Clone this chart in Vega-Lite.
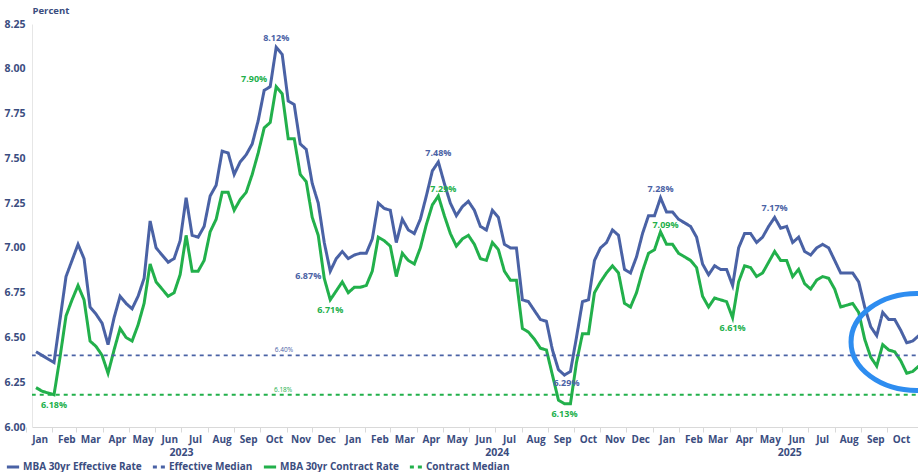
{
  "$schema": "https://vega.github.io/schema/vega-lite/v6.json",
  "width": 886,
  "height": 403,
  "autosize": {"type": "none"},
  "padding": {"left": 32, "top": 24, "right": 0, "bottom": 45},
  "background": "#ffffff",
  "config": {
    "view": {"stroke": null},
    "font": "Open Sans",
    "text": {"font": "Open Sans", "fontWeight": "bold", "fontSize": 9}
  },
  "layer": [
    {
      "data": {"values": [
        {"date": "2023-01-13", "MBA 30yr Effective Rate": 6.42, "MBA 30yr Contract Rate": 6.22},
        {"date": "2023-01-20", "MBA 30yr Effective Rate": 6.40, "MBA 30yr Contract Rate": 6.20},
        {"date": "2023-01-27", "MBA 30yr Effective Rate": 6.38, "MBA 30yr Contract Rate": 6.19},
        {"date": "2023-02-03", "MBA 30yr Effective Rate": 6.36, "MBA 30yr Contract Rate": 6.18},
        {"date": "2023-02-10", "MBA 30yr Effective Rate": 6.60, "MBA 30yr Contract Rate": 6.39},
        {"date": "2023-02-17", "MBA 30yr Effective Rate": 6.84, "MBA 30yr Contract Rate": 6.62},
        {"date": "2023-02-24", "MBA 30yr Effective Rate": 6.93, "MBA 30yr Contract Rate": 6.71},
        {"date": "2023-03-03", "MBA 30yr Effective Rate": 7.02, "MBA 30yr Contract Rate": 6.79},
        {"date": "2023-03-10", "MBA 30yr Effective Rate": 6.94, "MBA 30yr Contract Rate": 6.71},
        {"date": "2023-03-17", "MBA 30yr Effective Rate": 6.67, "MBA 30yr Contract Rate": 6.48},
        {"date": "2023-03-24", "MBA 30yr Effective Rate": 6.63, "MBA 30yr Contract Rate": 6.45},
        {"date": "2023-03-31", "MBA 30yr Effective Rate": 6.58, "MBA 30yr Contract Rate": 6.40},
        {"date": "2023-04-07", "MBA 30yr Effective Rate": 6.46, "MBA 30yr Contract Rate": 6.30},
        {"date": "2023-04-14", "MBA 30yr Effective Rate": 6.61, "MBA 30yr Contract Rate": 6.43},
        {"date": "2023-04-21", "MBA 30yr Effective Rate": 6.73, "MBA 30yr Contract Rate": 6.55},
        {"date": "2023-04-28", "MBA 30yr Effective Rate": 6.69, "MBA 30yr Contract Rate": 6.50},
        {"date": "2023-05-05", "MBA 30yr Effective Rate": 6.66, "MBA 30yr Contract Rate": 6.48},
        {"date": "2023-05-12", "MBA 30yr Effective Rate": 6.73, "MBA 30yr Contract Rate": 6.57},
        {"date": "2023-05-19", "MBA 30yr Effective Rate": 6.83, "MBA 30yr Contract Rate": 6.69},
        {"date": "2023-05-26", "MBA 30yr Effective Rate": 7.15, "MBA 30yr Contract Rate": 6.91},
        {"date": "2023-06-02", "MBA 30yr Effective Rate": 7.00, "MBA 30yr Contract Rate": 6.81},
        {"date": "2023-06-09", "MBA 30yr Effective Rate": 6.96, "MBA 30yr Contract Rate": 6.77},
        {"date": "2023-06-16", "MBA 30yr Effective Rate": 6.92, "MBA 30yr Contract Rate": 6.73},
        {"date": "2023-06-23", "MBA 30yr Effective Rate": 6.94, "MBA 30yr Contract Rate": 6.75},
        {"date": "2023-06-30", "MBA 30yr Effective Rate": 7.04, "MBA 30yr Contract Rate": 6.85},
        {"date": "2023-07-07", "MBA 30yr Effective Rate": 7.28, "MBA 30yr Contract Rate": 7.07},
        {"date": "2023-07-14", "MBA 30yr Effective Rate": 7.07, "MBA 30yr Contract Rate": 6.87},
        {"date": "2023-07-21", "MBA 30yr Effective Rate": 7.06, "MBA 30yr Contract Rate": 6.87},
        {"date": "2023-07-28", "MBA 30yr Effective Rate": 7.12, "MBA 30yr Contract Rate": 6.93},
        {"date": "2023-08-04", "MBA 30yr Effective Rate": 7.29, "MBA 30yr Contract Rate": 7.09},
        {"date": "2023-08-11", "MBA 30yr Effective Rate": 7.35, "MBA 30yr Contract Rate": 7.16},
        {"date": "2023-08-18", "MBA 30yr Effective Rate": 7.54, "MBA 30yr Contract Rate": 7.31},
        {"date": "2023-08-25", "MBA 30yr Effective Rate": 7.53, "MBA 30yr Contract Rate": 7.31},
        {"date": "2023-09-01", "MBA 30yr Effective Rate": 7.41, "MBA 30yr Contract Rate": 7.21},
        {"date": "2023-09-08", "MBA 30yr Effective Rate": 7.48, "MBA 30yr Contract Rate": 7.27},
        {"date": "2023-09-15", "MBA 30yr Effective Rate": 7.52, "MBA 30yr Contract Rate": 7.31},
        {"date": "2023-09-22", "MBA 30yr Effective Rate": 7.58, "MBA 30yr Contract Rate": 7.41},
        {"date": "2023-09-29", "MBA 30yr Effective Rate": 7.71, "MBA 30yr Contract Rate": 7.53},
        {"date": "2023-10-06", "MBA 30yr Effective Rate": 7.88, "MBA 30yr Contract Rate": 7.67},
        {"date": "2023-10-13", "MBA 30yr Effective Rate": 7.90, "MBA 30yr Contract Rate": 7.70},
        {"date": "2023-10-20", "MBA 30yr Effective Rate": 8.12, "MBA 30yr Contract Rate": 7.90},
        {"date": "2023-10-27", "MBA 30yr Effective Rate": 8.08, "MBA 30yr Contract Rate": 7.86},
        {"date": "2023-11-03", "MBA 30yr Effective Rate": 7.82, "MBA 30yr Contract Rate": 7.61},
        {"date": "2023-11-10", "MBA 30yr Effective Rate": 7.80, "MBA 30yr Contract Rate": 7.61},
        {"date": "2023-11-17", "MBA 30yr Effective Rate": 7.58, "MBA 30yr Contract Rate": 7.41},
        {"date": "2023-11-24", "MBA 30yr Effective Rate": 7.55, "MBA 30yr Contract Rate": 7.37},
        {"date": "2023-12-01", "MBA 30yr Effective Rate": 7.36, "MBA 30yr Contract Rate": 7.17},
        {"date": "2023-12-08", "MBA 30yr Effective Rate": 7.25, "MBA 30yr Contract Rate": 7.07},
        {"date": "2023-12-15", "MBA 30yr Effective Rate": 7.03, "MBA 30yr Contract Rate": 6.83},
        {"date": "2023-12-22", "MBA 30yr Effective Rate": 6.87, "MBA 30yr Contract Rate": 6.71},
        {"date": "2023-12-29", "MBA 30yr Effective Rate": 6.94, "MBA 30yr Contract Rate": 6.76},
        {"date": "2024-01-05", "MBA 30yr Effective Rate": 6.98, "MBA 30yr Contract Rate": 6.81},
        {"date": "2024-01-12", "MBA 30yr Effective Rate": 6.94, "MBA 30yr Contract Rate": 6.75},
        {"date": "2024-01-19", "MBA 30yr Effective Rate": 6.96, "MBA 30yr Contract Rate": 6.78},
        {"date": "2024-01-26", "MBA 30yr Effective Rate": 6.97, "MBA 30yr Contract Rate": 6.78},
        {"date": "2024-02-02", "MBA 30yr Effective Rate": 6.97, "MBA 30yr Contract Rate": 6.79},
        {"date": "2024-02-09", "MBA 30yr Effective Rate": 7.05, "MBA 30yr Contract Rate": 6.87},
        {"date": "2024-02-16", "MBA 30yr Effective Rate": 7.25, "MBA 30yr Contract Rate": 7.06},
        {"date": "2024-02-23", "MBA 30yr Effective Rate": 7.22, "MBA 30yr Contract Rate": 7.04},
        {"date": "2024-03-01", "MBA 30yr Effective Rate": 7.21, "MBA 30yr Contract Rate": 7.01},
        {"date": "2024-03-08", "MBA 30yr Effective Rate": 7.03, "MBA 30yr Contract Rate": 6.84},
        {"date": "2024-03-15", "MBA 30yr Effective Rate": 7.16, "MBA 30yr Contract Rate": 6.97},
        {"date": "2024-03-22", "MBA 30yr Effective Rate": 7.10, "MBA 30yr Contract Rate": 6.93},
        {"date": "2024-03-29", "MBA 30yr Effective Rate": 7.08, "MBA 30yr Contract Rate": 6.91},
        {"date": "2024-04-05", "MBA 30yr Effective Rate": 7.16, "MBA 30yr Contract Rate": 7.00},
        {"date": "2024-04-12", "MBA 30yr Effective Rate": 7.29, "MBA 30yr Contract Rate": 7.13},
        {"date": "2024-04-19", "MBA 30yr Effective Rate": 7.43, "MBA 30yr Contract Rate": 7.24},
        {"date": "2024-04-26", "MBA 30yr Effective Rate": 7.48, "MBA 30yr Contract Rate": 7.29},
        {"date": "2024-05-03", "MBA 30yr Effective Rate": 7.36, "MBA 30yr Contract Rate": 7.18},
        {"date": "2024-05-10", "MBA 30yr Effective Rate": 7.25, "MBA 30yr Contract Rate": 7.08},
        {"date": "2024-05-17", "MBA 30yr Effective Rate": 7.18, "MBA 30yr Contract Rate": 7.01},
        {"date": "2024-05-24", "MBA 30yr Effective Rate": 7.23, "MBA 30yr Contract Rate": 7.05},
        {"date": "2024-05-31", "MBA 30yr Effective Rate": 7.26, "MBA 30yr Contract Rate": 7.07},
        {"date": "2024-06-07", "MBA 30yr Effective Rate": 7.21, "MBA 30yr Contract Rate": 7.02},
        {"date": "2024-06-14", "MBA 30yr Effective Rate": 7.12, "MBA 30yr Contract Rate": 6.94},
        {"date": "2024-06-21", "MBA 30yr Effective Rate": 7.10, "MBA 30yr Contract Rate": 6.93},
        {"date": "2024-06-28", "MBA 30yr Effective Rate": 7.21, "MBA 30yr Contract Rate": 7.03},
        {"date": "2024-07-05", "MBA 30yr Effective Rate": 7.17, "MBA 30yr Contract Rate": 6.99},
        {"date": "2024-07-12", "MBA 30yr Effective Rate": 7.02, "MBA 30yr Contract Rate": 6.87},
        {"date": "2024-07-19", "MBA 30yr Effective Rate": 7.00, "MBA 30yr Contract Rate": 6.82},
        {"date": "2024-07-26", "MBA 30yr Effective Rate": 7.00, "MBA 30yr Contract Rate": 6.82},
        {"date": "2024-08-02", "MBA 30yr Effective Rate": 6.71, "MBA 30yr Contract Rate": 6.55},
        {"date": "2024-08-09", "MBA 30yr Effective Rate": 6.70, "MBA 30yr Contract Rate": 6.53},
        {"date": "2024-08-16", "MBA 30yr Effective Rate": 6.65, "MBA 30yr Contract Rate": 6.49},
        {"date": "2024-08-23", "MBA 30yr Effective Rate": 6.60, "MBA 30yr Contract Rate": 6.44},
        {"date": "2024-08-30", "MBA 30yr Effective Rate": 6.59, "MBA 30yr Contract Rate": 6.43},
        {"date": "2024-09-06", "MBA 30yr Effective Rate": 6.43, "MBA 30yr Contract Rate": 6.29},
        {"date": "2024-09-13", "MBA 30yr Effective Rate": 6.32, "MBA 30yr Contract Rate": 6.15},
        {"date": "2024-09-20", "MBA 30yr Effective Rate": 6.29, "MBA 30yr Contract Rate": 6.13},
        {"date": "2024-09-27", "MBA 30yr Effective Rate": 6.31, "MBA 30yr Contract Rate": 6.13},
        {"date": "2024-10-04", "MBA 30yr Effective Rate": 6.50, "MBA 30yr Contract Rate": 6.36},
        {"date": "2024-10-11", "MBA 30yr Effective Rate": 6.70, "MBA 30yr Contract Rate": 6.52},
        {"date": "2024-10-18", "MBA 30yr Effective Rate": 6.71, "MBA 30yr Contract Rate": 6.52},
        {"date": "2024-10-25", "MBA 30yr Effective Rate": 6.93, "MBA 30yr Contract Rate": 6.75},
        {"date": "2024-11-01", "MBA 30yr Effective Rate": 7.00, "MBA 30yr Contract Rate": 6.81},
        {"date": "2024-11-08", "MBA 30yr Effective Rate": 7.03, "MBA 30yr Contract Rate": 6.86},
        {"date": "2024-11-15", "MBA 30yr Effective Rate": 7.10, "MBA 30yr Contract Rate": 6.90},
        {"date": "2024-11-22", "MBA 30yr Effective Rate": 7.07, "MBA 30yr Contract Rate": 6.86},
        {"date": "2024-11-29", "MBA 30yr Effective Rate": 6.88, "MBA 30yr Contract Rate": 6.69},
        {"date": "2024-12-06", "MBA 30yr Effective Rate": 6.86, "MBA 30yr Contract Rate": 6.67},
        {"date": "2024-12-13", "MBA 30yr Effective Rate": 6.95, "MBA 30yr Contract Rate": 6.75},
        {"date": "2024-12-20", "MBA 30yr Effective Rate": 7.08, "MBA 30yr Contract Rate": 6.87},
        {"date": "2024-12-27", "MBA 30yr Effective Rate": 7.18, "MBA 30yr Contract Rate": 6.97},
        {"date": "2025-01-03", "MBA 30yr Effective Rate": 7.18, "MBA 30yr Contract Rate": 6.99},
        {"date": "2025-01-10", "MBA 30yr Effective Rate": 7.28, "MBA 30yr Contract Rate": 7.09},
        {"date": "2025-01-17", "MBA 30yr Effective Rate": 7.20, "MBA 30yr Contract Rate": 7.02},
        {"date": "2025-01-24", "MBA 30yr Effective Rate": 7.20, "MBA 30yr Contract Rate": 7.02},
        {"date": "2025-01-31", "MBA 30yr Effective Rate": 7.16, "MBA 30yr Contract Rate": 6.97},
        {"date": "2025-02-07", "MBA 30yr Effective Rate": 7.14, "MBA 30yr Contract Rate": 6.95},
        {"date": "2025-02-14", "MBA 30yr Effective Rate": 7.12, "MBA 30yr Contract Rate": 6.93},
        {"date": "2025-02-21", "MBA 30yr Effective Rate": 7.06, "MBA 30yr Contract Rate": 6.89},
        {"date": "2025-02-28", "MBA 30yr Effective Rate": 6.91, "MBA 30yr Contract Rate": 6.73},
        {"date": "2025-03-07", "MBA 30yr Effective Rate": 6.85, "MBA 30yr Contract Rate": 6.67},
        {"date": "2025-03-14", "MBA 30yr Effective Rate": 6.90, "MBA 30yr Contract Rate": 6.72},
        {"date": "2025-03-21", "MBA 30yr Effective Rate": 6.88, "MBA 30yr Contract Rate": 6.71},
        {"date": "2025-03-28", "MBA 30yr Effective Rate": 6.88, "MBA 30yr Contract Rate": 6.70},
        {"date": "2025-04-04", "MBA 30yr Effective Rate": 6.79, "MBA 30yr Contract Rate": 6.61},
        {"date": "2025-04-11", "MBA 30yr Effective Rate": 7.00, "MBA 30yr Contract Rate": 6.81},
        {"date": "2025-04-18", "MBA 30yr Effective Rate": 7.08, "MBA 30yr Contract Rate": 6.90},
        {"date": "2025-04-25", "MBA 30yr Effective Rate": 7.08, "MBA 30yr Contract Rate": 6.89},
        {"date": "2025-05-02", "MBA 30yr Effective Rate": 7.03, "MBA 30yr Contract Rate": 6.84},
        {"date": "2025-05-09", "MBA 30yr Effective Rate": 7.06, "MBA 30yr Contract Rate": 6.86},
        {"date": "2025-05-16", "MBA 30yr Effective Rate": 7.12, "MBA 30yr Contract Rate": 6.92},
        {"date": "2025-05-23", "MBA 30yr Effective Rate": 7.17, "MBA 30yr Contract Rate": 6.98},
        {"date": "2025-05-30", "MBA 30yr Effective Rate": 7.11, "MBA 30yr Contract Rate": 6.93},
        {"date": "2025-06-06", "MBA 30yr Effective Rate": 7.12, "MBA 30yr Contract Rate": 6.93},
        {"date": "2025-06-13", "MBA 30yr Effective Rate": 7.03, "MBA 30yr Contract Rate": 6.84},
        {"date": "2025-06-20", "MBA 30yr Effective Rate": 7.06, "MBA 30yr Contract Rate": 6.88},
        {"date": "2025-06-27", "MBA 30yr Effective Rate": 6.98, "MBA 30yr Contract Rate": 6.80},
        {"date": "2025-07-04", "MBA 30yr Effective Rate": 6.96, "MBA 30yr Contract Rate": 6.77},
        {"date": "2025-07-11", "MBA 30yr Effective Rate": 7.00, "MBA 30yr Contract Rate": 6.82},
        {"date": "2025-07-18", "MBA 30yr Effective Rate": 7.02, "MBA 30yr Contract Rate": 6.84},
        {"date": "2025-07-25", "MBA 30yr Effective Rate": 7.00, "MBA 30yr Contract Rate": 6.83},
        {"date": "2025-08-01", "MBA 30yr Effective Rate": 6.93, "MBA 30yr Contract Rate": 6.77},
        {"date": "2025-08-08", "MBA 30yr Effective Rate": 6.86, "MBA 30yr Contract Rate": 6.67},
        {"date": "2025-08-15", "MBA 30yr Effective Rate": 6.86, "MBA 30yr Contract Rate": 6.68},
        {"date": "2025-08-22", "MBA 30yr Effective Rate": 6.86, "MBA 30yr Contract Rate": 6.69},
        {"date": "2025-08-29", "MBA 30yr Effective Rate": 6.81, "MBA 30yr Contract Rate": 6.64},
        {"date": "2025-09-05", "MBA 30yr Effective Rate": 6.67, "MBA 30yr Contract Rate": 6.49},
        {"date": "2025-09-12", "MBA 30yr Effective Rate": 6.56, "MBA 30yr Contract Rate": 6.39},
        {"date": "2025-09-19", "MBA 30yr Effective Rate": 6.51, "MBA 30yr Contract Rate": 6.34},
        {"date": "2025-09-26", "MBA 30yr Effective Rate": 6.64, "MBA 30yr Contract Rate": 6.46},
        {"date": "2025-10-03", "MBA 30yr Effective Rate": 6.60, "MBA 30yr Contract Rate": 6.43},
        {"date": "2025-10-10", "MBA 30yr Effective Rate": 6.60, "MBA 30yr Contract Rate": 6.42},
        {"date": "2025-10-17", "MBA 30yr Effective Rate": 6.54, "MBA 30yr Contract Rate": 6.37},
        {"date": "2025-10-24", "MBA 30yr Effective Rate": 6.47, "MBA 30yr Contract Rate": 6.30},
        {"date": "2025-10-31", "MBA 30yr Effective Rate": 6.48, "MBA 30yr Contract Rate": 6.31},
        {"date": "2025-11-07", "MBA 30yr Effective Rate": 6.51, "MBA 30yr Contract Rate": 6.34}
      ]},
      "transform": [{"fold": ["MBA 30yr Effective Rate", "MBA 30yr Contract Rate"], "as": ["series", "rate"]}],
      "mark": {"type": "line", "strokeWidth": 3, "clip": true},
      "encoding": {
        "x": {
          "field": "date", "type": "temporal",
          "scale": {"domain": [{"year": 2023, "month": 1, "date": 8, "hours": 8, "utc": true}, {"year": 2025, "month": 11, "date": 6, "hours": 3, "utc": true}]},
          "axis": {
            "orient": "bottom", "title": null, "grid": false,
            "values": [
              {"year": 2023, "month": 1, "date": 15, "utc": true}, {"year": 2023, "month": 2, "date": 15, "utc": true}, {"year": 2023, "month": 3, "date": 15, "utc": true}, {"year": 2023, "month": 4, "date": 15, "utc": true}, {"year": 2023, "month": 5, "date": 15, "utc": true}, {"year": 2023, "month": 6, "date": 15, "utc": true}, {"year": 2023, "month": 7, "date": 15, "utc": true}, {"year": 2023, "month": 8, "date": 15, "utc": true}, {"year": 2023, "month": 9, "date": 15, "utc": true}, {"year": 2023, "month": 10, "date": 15, "utc": true}, {"year": 2023, "month": 11, "date": 15, "utc": true}, {"year": 2023, "month": 12, "date": 15, "utc": true},
              {"year": 2024, "month": 1, "date": 15, "utc": true}, {"year": 2024, "month": 2, "date": 15, "utc": true}, {"year": 2024, "month": 3, "date": 15, "utc": true}, {"year": 2024, "month": 4, "date": 15, "utc": true}, {"year": 2024, "month": 5, "date": 15, "utc": true}, {"year": 2024, "month": 6, "date": 15, "utc": true}, {"year": 2024, "month": 7, "date": 15, "utc": true}, {"year": 2024, "month": 8, "date": 15, "utc": true}, {"year": 2024, "month": 9, "date": 15, "utc": true}, {"year": 2024, "month": 10, "date": 15, "utc": true}, {"year": 2024, "month": 11, "date": 15, "utc": true}, {"year": 2024, "month": 12, "date": 15, "utc": true},
              {"year": 2025, "month": 1, "date": 15, "utc": true}, {"year": 2025, "month": 2, "date": 15, "utc": true}, {"year": 2025, "month": 3, "date": 15, "utc": true}, {"year": 2025, "month": 4, "date": 15, "utc": true}, {"year": 2025, "month": 5, "date": 15, "utc": true}, {"year": 2025, "month": 6, "date": 15, "utc": true}, {"year": 2025, "month": 7, "date": 15, "utc": true}, {"year": 2025, "month": 8, "date": 15, "utc": true}, {"year": 2025, "month": 9, "date": 15, "utc": true}, {"year": 2025, "month": 10, "date": 15, "utc": true}
            ],
            "labelExpr": "utcFormat(datum.value, '%b')",
            "tickOffset": -12, "labelOffset": 14, "tickSize": 5, "tickColor": "#d9d9d9", "domainColor": "#d9d9d9",
            "labelPadding": 2, "labelFont": "Open Sans", "labelFontSize": 10, "labelFontWeight": "bold", "labelColor": "#3B4D80",
            "labelOverlap": false, "labelFlush": false, "labelBound": false
          }
        },
        "y": {
          "field": "rate", "type": "quantitative",
          "scale": {"domain": [6, 8.25], "nice": false, "zero": false},
          "axis": {
            "title": "Percent", "titleAngle": 0, "titleX": 0, "titleY": -14, "titleAlign": "left", "titleBaseline": "middle",
            "titleFont": "Open Sans", "titleFontSize": 9.5, "titleFontWeight": "bold", "titleColor": "#3B4D80",
            "values": [6, 6.25, 6.5, 6.75, 7, 7.25, 7.5, 7.75, 8, 8.25], "format": ".2f",
            "ticks": false, "grid": false, "domainColor": "#e6e6e6", "labelPadding": 7,
            "labelFont": "Open Sans", "labelFontSize": 10.5, "labelFontWeight": "bold", "labelColor": "#3B4D80"
          }
        },
        "color": {
          "field": "series", "type": "nominal",
          "scale": {"domain": ["MBA 30yr Effective Rate", "Effective Median", "MBA 30yr Contract Rate", "Contract Median"], "range": ["#4A62A5", "#4A62A5", "#22B04B", "#22B04B"]},
          "legend": {"orient": "none", "legendX": -27, "legendY": 435, "direction": "horizontal", "title": null, "symbolType": "stroke", "symbolStrokeWidth": 3, "symbolSize": 150, "labelFont": "Open Sans", "labelFontSize": 10, "labelFontWeight": "bold", "labelColor": "#3B4D80", "columnPadding": 4, "labelOffset": 2}
        },
        "strokeDash": {
          "field": "series", "type": "nominal",
          "scale": {"domain": ["MBA 30yr Effective Rate", "Effective Median", "MBA 30yr Contract Rate", "Contract Median"], "range": [[1, 0], [4, 4], [1, 0], [4, 4]]},
          "legend": {"orient": "none", "legendX": -27, "legendY": 435, "direction": "horizontal", "title": null, "symbolType": "stroke", "symbolStrokeWidth": 3, "symbolSize": 150, "labelFont": "Open Sans", "labelFontSize": 10, "labelFontWeight": "bold", "labelColor": "#3B4D80", "columnPadding": 4, "labelOffset": 2}
        }
      }
    },
    {
      "data": {"values": [
        {"date": "2023-01-08", "series": "Effective Median", "rate": 6.40},
        {"date": "2025-11-07", "series": "Effective Median", "rate": 6.40},
        {"date": "2023-01-08", "series": "Contract Median", "rate": 6.18},
        {"date": "2025-11-07", "series": "Contract Median", "rate": 6.18}
      ]},
      "mark": {"type": "line", "strokeWidth": 1.8, "clip": true},
      "encoding": {
        "x": {
          "field": "date", "type": "temporal",
          "axis": {
            "orient": "bottom", "title": null, "grid": false, "domain": false, "ticks": false,
            "values": [{"year": 2023, "month": 7, "date": 1, "utc": true}, {"year": 2024, "month": 7, "date": 3, "utc": true}, {"year": 2025, "month": 6, "date": 9, "utc": true}],
            "labelExpr": "utcFormat(datum.value, '%Y')",
            "labelPadding": 20, "labelFont": "Open Sans", "labelFontSize": 10.5, "labelFontWeight": "bold", "labelColor": "#3B4D80",
            "labelOverlap": false, "labelFlush": false, "labelBound": false
          }
        },
        "y": {"field": "rate", "type": "quantitative"},
        "color": {"field": "series", "type": "nominal"},
        "strokeDash": {"field": "series", "type": "nominal"}
      }
    },
    {
      "data": {"values": [{"date": "2023-10-29", "rate": 6.40, "label": "6.40%"}]},
      "mark": {"type": "text", "color": "#4A62A5", "fontSize": 6.5, "fontWeight": "normal", "dy": -5},
      "encoding": {"x": {"field": "date", "type": "temporal", "axis": null}, "y": {"field": "rate", "type": "quantitative"}, "text": {"field": "label"}}
    },
    {
      "data": {"values": [{"date": "2023-10-28", "rate": 6.18, "label": "6.18%"}]},
      "mark": {"type": "text", "color": "#22B04B", "fontSize": 6.5, "fontWeight": "normal", "dy": -5},
      "encoding": {"x": {"field": "date", "type": "temporal", "axis": null}, "y": {"field": "rate", "type": "quantitative"}, "text": {"field": "label"}}
    },
    {
      "data": {"values": [
        {"date": "2023-10-20", "rate": 8.12, "label": "8.12%"},
        {"date": "2024-04-26", "rate": 7.48, "label": "7.48%"},
        {"date": "2025-01-10", "rate": 7.28, "label": "7.28%"},
        {"date": "2025-05-23", "rate": 7.17, "label": "7.17%"}
      ]},
      "mark": {"type": "text", "color": "#4A62A5", "dy": -9},
      "encoding": {"x": {"field": "date", "type": "temporal", "axis": null}, "y": {"field": "rate", "type": "quantitative"}, "text": {"field": "label"}}
    },
    {
      "data": {"values": [
        {"date": "2024-04-26", "rate": 7.29, "label": "7.29%"},
        {"date": "2025-01-10", "rate": 7.09, "label": "7.09%"}
      ]},
      "mark": {"type": "text", "color": "#22B04B", "dx": 5, "dy": -7},
      "encoding": {"x": {"field": "date", "type": "temporal", "axis": null}, "y": {"field": "rate", "type": "quantitative"}, "text": {"field": "label"}}
    },
    {
      "data": {"values": [
        {"date": "2023-02-03", "rate": 6.18, "label": "6.18%"},
        {"date": "2023-12-22", "rate": 6.71, "label": "6.71%"},
        {"date": "2024-09-20", "rate": 6.13, "label": "6.13%"},
        {"date": "2025-04-04", "rate": 6.61, "label": "6.61%"}
      ]},
      "mark": {"type": "text", "color": "#22B04B", "dy": 10},
      "encoding": {"x": {"field": "date", "type": "temporal", "axis": null}, "y": {"field": "rate", "type": "quantitative"}, "text": {"field": "label"}}
    },
    {
      "data": {"values": [{"date": "2024-09-20", "rate": 6.29, "label": "6.29%"}]},
      "mark": {"type": "text", "color": "#4A62A5", "dx": 2, "dy": 8},
      "encoding": {"x": {"field": "date", "type": "temporal", "axis": null}, "y": {"field": "rate", "type": "quantitative"}, "text": {"field": "label"}}
    },
    {
      "data": {"values": [{"date": "2023-10-20", "rate": 7.90, "label": "7.90%"}]},
      "mark": {"type": "text", "color": "#22B04B", "align": "right", "dx": -9, "dy": -8},
      "encoding": {"x": {"field": "date", "type": "temporal", "axis": null}, "y": {"field": "rate", "type": "quantitative"}, "text": {"field": "label"}}
    },
    {
      "data": {"values": [{"date": "2023-12-22", "rate": 6.87, "label": "6.87%"}]},
      "mark": {"type": "text", "color": "#4A62A5", "align": "right", "dx": -9, "dy": 5},
      "encoding": {"x": {"field": "date", "type": "temporal", "axis": null}, "y": {"field": "rate", "type": "quantitative"}, "text": {"field": "label"}}
    },
    {
      "data": {"values": [{"date": "2025-11-05", "rate": 6.475}]},
      "mark": {"type": "point", "shape": "M-1,0C-1,-0.406,-0.5523,-0.735,0,-0.735C0.5523,-0.735,1,-0.406,1,0C1,0.406,0.5523,0.735,0,0.735C-0.5523,0.735,-1,0.406,-1,0Z", "size": 17424, "filled": false, "stroke": "#2E8DF0", "strokeWidth": 5, "opacity": 1},
      "encoding": {"x": {"field": "date", "type": "temporal", "axis": null}, "y": {"field": "rate", "type": "quantitative"}}
    }
  ],
  "resolve": {"axis": {"x": "independent"}}
}
